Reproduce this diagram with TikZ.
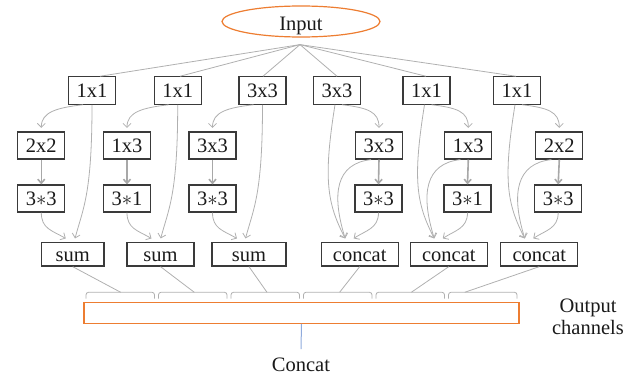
\documentclass[tikz,border=0pt]{standalone}
\usepackage{fontspec}
\setmainfont{Liberation Serif}
\usetikzlibrary{arrows.meta,shapes.geometric,calc}
\definecolor{boxc}{HTML}{3A3A3A}
\definecolor{linec}{HTML}{B0B0B0}
\definecolor{thickc}{HTML}{A8A8A8}
\definecolor{orangec}{HTML}{ED7D31}
\definecolor{bluec}{HTML}{8FAADC}
\definecolor{txtc}{HTML}{1A1A1A}
\begin{document}
\begin{tikzpicture}[x=1pt,y=1pt,
  font=\fontsize{20.5}{22}\selectfont, text=txtc,
  box/.style={draw=boxc, line width=1.2pt, inner sep=0pt, minimum width=47pt,
    minimum height=27pt, text height=14pt, text depth=0pt},
  lowbox/.style={box, minimum height=23.5pt},
  conn/.style={draw=linec, line width=0.8pt, -{Straight Barb[length=4pt,width=8pt]}},
  vconn/.style={draw=thickc, line width=1.6pt, -{Straight Barb[length=4pt,width=7pt]}},
  fanline/.style={draw=linec, line width=0.8pt},
  bracket/.style={draw=linec, line width=0.8pt, rounded corners=2.5pt},
  lbl/.style={inner sep=0pt, text height=14pt, text depth=0pt, anchor=base}
]
\useasboundingbox (0,0) rectangle (638,-375);

% input
\node[ellipse, draw=orangec, line width=1.2pt, minimum width=158pt, minimum height=31pt,
  inner sep=0pt, text height=17pt, text depth=0pt] (input) at (301,-21.5) {Input};
\coordinate (fan) at ($(input.south)+(-1,-7)$);

% top row
\node[box, minimum height=27.3pt] (t1) at (92,-90.5) {1x1};
\node[box, minimum height=27.3pt] (t2) at (177.7,-90.5) {1x1};
\node[box, minimum height=27.3pt] (t3) at (262.5,-90.5) {3x3};
\node[box, minimum height=27.3pt] (t4) at (337,-90.5) {3x3};
\node[box, minimum height=27.3pt] (t5) at (426.5,-90.5) {1x1};
\node[box, minimum height=27.3pt] (t6) at (517,-90.5) {1x1};

% middle row
\node[box] (m1) at (41.3,-145.5) {2x2};
\node[box] (m2) at (127,-145.5) {1x3};
\node[box] (m3) at (212.5,-145.5) {3x3};
\node[box] (m4) at (379,-145.5) {3x3};
\node[box] (m5) at (468.3,-145.5) {1x3};
\node[box] (m6) at (559.3,-145.5) {2x2};

% third row
\node[box] (b1) at (41.3,-198.5) {3$\ast$3};
\node[box] (b2) at (127,-198.5) {3$\ast$1};
\node[box] (b3) at (212.5,-198.5) {3$\ast$3};
\node[box] (b4) at (378.5,-198.5) {3$\ast$3};
\node[box] (b5) at (467.5,-198.5) {3$\ast$1};
\node[box] (b6) at (558.2,-198.5) {3$\ast$3};

% merge row
\node[lowbox, minimum width=62.7pt] (s1) at (72.7,-254.3) {sum};
\node[lowbox, minimum width=67pt] (s2) at (160.5,-254.3) {sum};
\node[lowbox, minimum width=74pt] (s3) at (249,-254.3) {sum};
\node[lowbox, minimum width=77pt] (c1) at (359.7,-254.3) {concat};
\node[lowbox, minimum width=77pt] (c2) at (448.8,-254.3) {concat};
\node[lowbox, minimum width=77pt] (c3) at (539.3,-254.3) {concat};

% fan-out
\draw[fanline] (fan) -- ([xshift=8pt]t1.north);
\draw[fanline] (fan) -- ([xshift=2.3pt]t2.north);
\draw[fanline] (fan) -- ([xshift=0.5pt]t3.north);
\draw[fanline] (fan) -- (t4.north);
\draw[fanline] (fan) -- ([xshift=-0.5pt]t5.north);
\draw[fanline] (fan) -- ([xshift=-1pt]t6.north);

% sum columns
\foreach \i in {1,2,3}{
  \draw[conn] ([xshift=-9pt]t\i.south) .. controls +(-26,-3) and +(0,16) .. ([yshift=3.5pt]m\i.north);
  \draw[conn] (t\i.south) .. controls +(0,-90) and +(8,30) .. ($(t\i.south|-s\i.north)+(-17,3.5)$);
  \draw[vconn] (m\i.south) -- (b\i.north);
  \draw[conn] (b\i.south) .. controls +(0,-16) and +(-14,8) .. ($(b\i.south|-s\i.north)+(24.5,3.5)$);
}

% concat columns
\foreach \i/\j in {4/1,5/2,6/3}{
  \draw[conn] ([xshift=5pt]t\i.south) .. controls +(26,-3) and +(0,16) .. ([yshift=3.5pt]m\i.north);
  \draw[conn] ([xshift=-2pt]t\i.south) .. controls +(-12,-75) and +(-18,35) .. ($(c\j.north)+(-14.5,3.5)$);
  \draw[conn] ([xshift=-8pt]m\i.south) .. controls +(-35,-4) and +(-14,45) .. ($(c\j.north)+(-14.5,3.5)$);
  \draw[vconn] (m\i.south) -- (b\i.north);
  \draw[conn] (b\i.south) .. controls +(0,-16) and +(12,8) .. ($(c\j.north)+(-6,3.5)$);
}

% brackets
\foreach \i in {0,...,5}{
  \pgfmathsetmacro\bl{84+72.5*\i+2}
  \pgfmathsetmacro\br{84+72.5*(\i+1)-2}
  \draw[bracket] (\bl,-298.5) -- (\bl,-292.3) -- (\br,-292.3) -- (\br,-298.5);
}
\coordinate (k1) at (120.7,-292.3);
\coordinate (k2) at (194.3,-292.3);
\coordinate (k3) at (267,-292.3);
\coordinate (k4) at (339.6,-292.3);
\coordinate (k5) at (411.3,-292.3);
\coordinate (k6) at (464.7,-292.3);
\draw[fanline] (s1.south) -- (k1);
\draw[fanline] (s2.south) -- (k2);
\draw[fanline] (s3.south) -- (k3);
\draw[fanline] (c1.south) -- (k4);
\draw[fanline] (c2.south) -- (k5);
\draw[fanline] (c3.south) -- (k6);

% output bar
\node[draw=orangec, line width=1.3pt, minimum width=435pt, minimum height=20.5pt, inner sep=0pt]
  (bar) at (301.5,-313) {};
\node[lbl] (concatlbl) at (301,-371.7) {Concat};
\draw[draw=bluec, line width=1pt] (bar.south) -- ([yshift=8.4pt]concatlbl.north);

\node[lbl] (outA) at (588,-312.3) {Output};
\node[lbl] (outB) at (588,-334.3) {channels};
\end{tikzpicture}
\end{document}
